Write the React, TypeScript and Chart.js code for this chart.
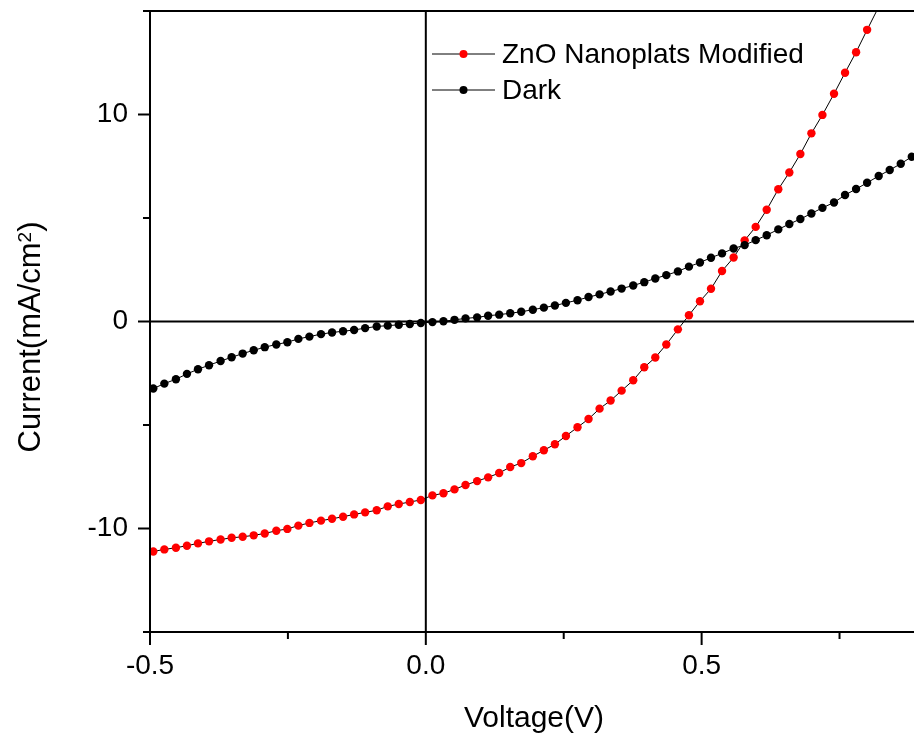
import { useEffect, useRef } from "react";
import { Chart, registerables } from "chart.js";

Chart.register(...registerables);

// Voltage sweep (V)
const VOLTAGE = [
  -0.494, -0.474, -0.453, -0.433, -0.413, -0.393, -0.372, -0.352, -0.332, -0.312,
  -0.292, -0.271, -0.251, -0.231, -0.211, -0.19, -0.17, -0.15, -0.13, -0.11,
  -0.089, -0.069, -0.049, -0.029, -0.009, 0.012, 0.032, 0.052, 0.072, 0.093,
  0.113, 0.133, 0.153, 0.173, 0.194, 0.214, 0.234, 0.254, 0.275, 0.295,
  0.315, 0.335, 0.355, 0.376, 0.396, 0.416, 0.436, 0.457, 0.477, 0.497,
  0.517, 0.537, 0.558, 0.578, 0.598, 0.618, 0.639, 0.659, 0.679, 0.699,
  0.719, 0.74, 0.76, 0.78, 0.8, 0.821, 0.841, 0.861, 0.881,
];

// Current density (mA/cm2) under illumination, ZnO nanoplates modified
const LIGHT = [
  -11.11, -11.01, -10.93, -10.83, -10.72, -10.62, -10.53, -10.45, -10.4, -10.33,
  -10.24, -10.11, -10.02, -9.86, -9.73, -9.62, -9.53, -9.43, -9.32, -9.22,
  -9.12, -8.93, -8.82, -8.72, -8.62, -8.4, -8.3, -8.11, -7.9, -7.71,
  -7.53, -7.32, -7.03, -6.84, -6.51, -6.22, -5.93, -5.53, -5.11, -4.71,
  -4.21, -3.82, -3.34, -2.84, -2.21, -1.74, -1.11, -0.38, 0.3, 0.98,
  1.58, 2.44, 3.09, 3.92, 4.57, 5.4, 6.39, 7.2, 8.09, 9.09,
  9.98, 11.0, 12.02, 13.01, 14.09, 15.2,
];

// Current density (mA/cm2) in the dark
const DARK = [
  -3.24, -3.0, -2.79, -2.53, -2.31, -2.11, -1.91, -1.73, -1.55, -1.39,
  -1.24, -1.11, -1.0, -0.84, -0.73, -0.61, -0.53, -0.47, -0.41, -0.32,
  -0.24, -0.2, -0.16, -0.12, -0.07, -0.03, 0.01, 0.08, 0.15, 0.2,
  0.28, 0.33, 0.4, 0.47, 0.57, 0.67, 0.77, 0.9, 1.03, 1.18,
  1.31, 1.45, 1.59, 1.74, 1.9, 2.08, 2.24, 2.42, 2.65, 2.85,
  3.08, 3.29, 3.53, 3.69, 3.93, 4.17, 4.45, 4.71, 4.95, 5.22,
  5.49, 5.75, 6.11, 6.4, 6.7, 7.03, 7.32, 7.62, 7.96,
];

const SERIES_LABELS = ["ZnO Nanoplats Modified", "Dark"];
const SERIES_COLORS = ["#ff0000", "#000000"];

const X_MAJOR = [-0.5, 0, 0.5];
const X_MINOR = [-0.25, 0.25, 0.75];
const Y_MAJOR = [-10, 0, 10];
const Y_MINOR = [-15, -5, 5, 15];
const X_MIN = -0.5;
const X_MAX = 0.885;
const Y_MIN = -15;
const Y_MAX = 15;

const X_TITLE = "Voltage(V)";
const Y_TITLE_MAIN = "Current(mA/cm";
const Y_TITLE_SUP = "2";
const Y_TITLE_END = ")";

const FONT = '"Liberation Sans", Arial, Helvetica, sans-serif';

const framePlugin = {
  id: "originFrame",
  afterDatasetsDraw(chart: any) {
    const { ctx, chartArea: a } = chart;
    const xs = chart.scales.x;
    const ys = chart.scales.y;
    ctx.save();
    ctx.strokeStyle = "#000";
    ctx.lineWidth = 2;
    ctx.lineCap = "butt";
    const line = (x1: number, y1: number, x2: number, y2: number) => {
      ctx.beginPath();
      ctx.moveTo(x1, y1);
      ctx.lineTo(x2, y2);
      ctx.stroke();
    };
    line(a.left, a.top - 1, a.left, a.bottom + 1);
    line(a.left - 1, a.top, a.right, a.top);
    line(a.left - 1, a.bottom, a.right, a.bottom);
    const x0 = xs.getPixelForValue(0);
    const y0 = ys.getPixelForValue(0);
    line(x0, a.top, x0, a.bottom);
    line(a.left, y0, a.right, y0);
    X_MAJOR.forEach((v) => {
      const p = xs.getPixelForValue(v);
      line(p, a.bottom, p, a.bottom + 13);
    });
    X_MINOR.forEach((v) => {
      const p = xs.getPixelForValue(v);
      line(p, a.bottom, p, a.bottom + 7);
    });
    Y_MAJOR.forEach((v) => {
      const p = ys.getPixelForValue(v);
      line(a.left - 12, p, a.left, p);
    });
    Y_MINOR.forEach((v) => {
      const p = ys.getPixelForValue(v);
      line(a.left - 7, p, a.left, p);
    });
    ctx.restore();
  },
  afterDraw(chart: any) {
    const { ctx } = chart;
    ctx.save();
    ctx.fillStyle = "#000";

    // Legend
    const rowsY = [54, 90];
    chart.data.datasets.forEach((ds: any, i: number) => {
      const y = rowsY[i];
      ctx.strokeStyle = "#000";
      ctx.lineWidth = 1;
      ctx.beginPath();
      ctx.moveTo(432, y);
      ctx.lineTo(495, y);
      ctx.stroke();
      ctx.fillStyle = ds.pointBackgroundColor;
      ctx.beginPath();
      ctx.arc(463.5, y, 4, 0, Math.PI * 2);
      ctx.fill();
      ctx.fillStyle = "#000";
      ctx.font = `28px ${FONT}`;
      ctx.textAlign = "left";
      ctx.textBaseline = "alphabetic";
      ctx.fillText(ds.label, 502, y + 9.3);
    });

    // X title
    ctx.font = `30px ${FONT}`;
    ctx.textAlign = "center";
    ctx.textBaseline = "alphabetic";
    ctx.fillText(X_TITLE, 534, 727);

    // Y title (rotated, with superscript)
    ctx.save();
    ctx.translate(40, 337);
    ctx.rotate(-Math.PI / 2);
    ctx.textAlign = "left";
    ctx.font = `31px ${FONT}`;
    const w1 = ctx.measureText(Y_TITLE_MAIN).width;
    const w3 = ctx.measureText(Y_TITLE_END).width;
    ctx.font = `19px ${FONT}`;
    const w2 = ctx.measureText(Y_TITLE_SUP).width;
    const start = -(w1 + w2 + w3) / 2;
    ctx.font = `31px ${FONT}`;
    ctx.fillText(Y_TITLE_MAIN, start, 0);
    ctx.font = `19px ${FONT}`;
    ctx.fillText(Y_TITLE_SUP, start + w1, -9);
    ctx.font = `31px ${FONT}`;
    ctx.fillText(Y_TITLE_END, start + w1 + w2, 0);
    ctx.restore();

    ctx.restore();
  },
};

export default function App() {
  const canvasRef = useRef<HTMLCanvasElement | null>(null);

  useEffect(() => {
    if (!canvasRef.current) return;
    const series = [LIGHT, DARK];
    const chart = new Chart(canvasRef.current, {
      type: "line",
      data: {
        datasets: series.map((vals, i) => ({
          label: SERIES_LABELS[i],
          data: vals.map((v, k) => ({ x: VOLTAGE[k], y: v })),
          borderColor: "#000",
          borderWidth: 1,
          pointRadius: 4.2,
          pointBackgroundColor: SERIES_COLORS[i],
          pointBorderColor: SERIES_COLORS[i],
          pointBorderWidth: 0,
          pointHoverRadius: 4.2,
          tension: 0,
          fill: false,
          clip: 0,
          order: i === 0 ? 1 : 0,
        })),
      },
      options: {
        animation: false,
        responsive: false,
        devicePixelRatio: 1,
        events: [],
        layout: { autoPadding: false, padding: { top: 11, left: 0, right: 0, bottom: 0 } },
        plugins: {
          legend: { display: false },
          tooltip: { enabled: false },
          title: { display: false },
        },
        scales: {
          x: {
            type: "linear",
            min: X_MIN,
            max: X_MAX,
            afterFit: (s: any) => {
              s.height = 105;
              s.paddingLeft = 0;
              s.paddingRight = 0;
              s.paddingTop = 0;
              s.paddingBottom = 0;
            },
            afterBuildTicks: (s: any) => {
              s.ticks = X_MAJOR.map((v) => ({ value: v }));
            },
            grid: { display: false, drawTicks: false },
            border: { display: false },
            ticks: {
              color: "#000",
              font: { family: FONT, size: 28 },
              padding: 17,
              maxRotation: 0,
              autoSkip: false,
              callback: (v: any) => Number(v).toFixed(1),
            },
          },
          y: {
            type: "linear",
            min: Y_MIN,
            max: Y_MAX,
            afterFit: (s: any) => {
              s.width = 150;
              s.paddingLeft = 0;
              s.paddingRight = 0;
              s.paddingTop = 0;
              s.paddingBottom = 0;
            },
            afterBuildTicks: (s: any) => {
              s.ticks = Y_MAJOR.map((v) => ({ value: v }));
            },
            grid: { display: false, drawTicks: false },
            border: { display: false },
            ticks: {
              color: "#000",
              font: { family: FONT, size: 28 },
              padding: 22,
              autoSkip: false,
              callback: (v: any) => String(v),
            },
          },
        },
      },
      plugins: [framePlugin],
    } as any);
    return () => chart.destroy();
  }, []);

  return (
    <div style={{ position: "fixed", left: 0, top: 0, width: 914, height: 737, background: "#fff" }}>
      <canvas ref={canvasRef} width={914} height={737} style={{ display: "block" }} />
    </div>
  );
}
